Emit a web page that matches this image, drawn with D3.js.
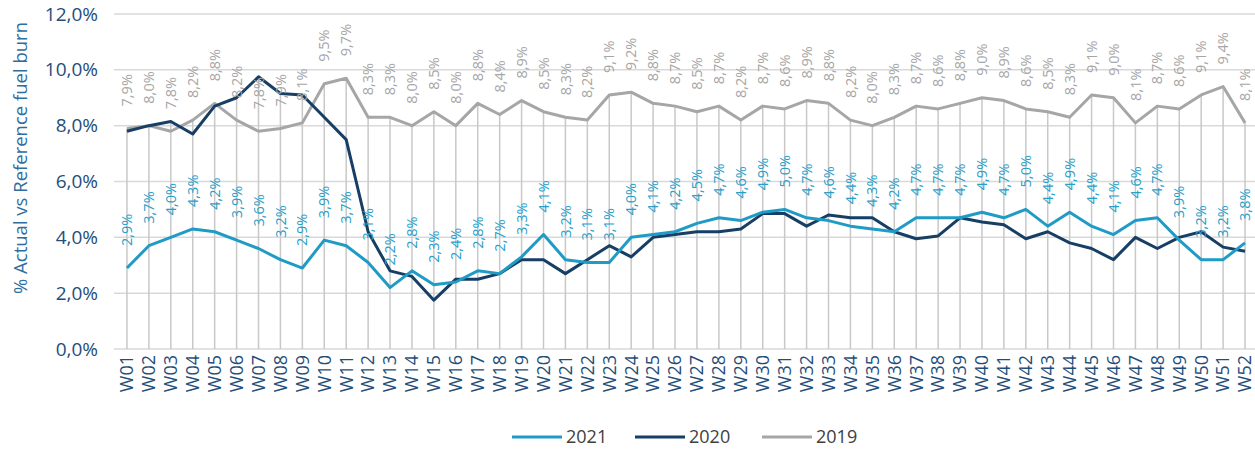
<!DOCTYPE html>
<html>
<head>
<meta charset="utf-8">
<script src="https://cdn.jsdelivr.net/npm/d3@7"></script>
<style>
  body { margin: 0; background: #fff; }
  svg text { font-family: "Open Sans", "Noto Sans", sans-serif; }
</style>
</head>
<body>
<div id="chart"></div>
<script>
// weeks
const weeks = d3.range(1, 53).map(d => "W" + String(d).padStart(2, "0"));

// % actual vs reference fuel burn
const values2021 = [2.9, 3.7, 4.0, 4.3, 4.2, 3.9, 3.6, 3.2, 2.9, 3.9, 3.7, 3.1, 2.2, 2.8, 2.3, 2.4, 2.8, 2.7, 3.3, 4.1,
  3.2, 3.1, 3.1, 4.0, 4.1, 4.2, 4.5, 4.7, 4.6, 4.9, 5.0, 4.7, 4.6, 4.4, 4.3, 4.2, 4.7, 4.7, 4.7, 4.9,
  4.7, 5.0, 4.4, 4.9, 4.4, 4.1, 4.6, 4.7, 3.9, 3.2, 3.2, 3.8];
const values2020 = [7.8, 8.0, 8.15, 7.7, 8.7, 9.0, 9.75, 9.15, 9.1, 8.3, 7.5, 4.2, 2.8, 2.6, 1.75, 2.5, 2.5, 2.7, 3.2, 3.2,
  2.7, 3.2, 3.7, 3.3, 4.0, 4.1, 4.2, 4.2, 4.3, 4.85, 4.85, 4.4, 4.8, 4.7, 4.7, 4.2, 3.95, 4.05, 4.7, 4.55,
  4.45, 3.95, 4.2, 3.8, 3.6, 3.2, 4.0, 3.6, 4.0, 4.2, 3.65, 3.5];
const values2019 = [7.9, 8.0, 7.8, 8.2, 8.8, 8.2, 7.8, 7.9, 8.1, 9.5, 9.7, 8.3, 8.3, 8.0, 8.5, 8.0, 8.8, 8.4, 8.9, 8.5,
  8.3, 8.2, 9.1, 9.2, 8.8, 8.7, 8.5, 8.7, 8.2, 8.7, 8.6, 8.9, 8.8, 8.2, 8.0, 8.3, 8.7, 8.6, 8.8, 9.0,
  8.9, 8.6, 8.5, 8.3, 9.1, 9.0, 8.1, 8.7, 8.6, 9.1, 9.4, 8.1];

const yTicks = [0, 2, 4, 6, 8, 10, 12];

const series = [
  {name: "2021", values: values2021, color: "#1f9bc6", labelColor: "#2aa0c9", labels: true},
  {name: "2020", values: values2020, color: "#173e64", labelColor: null, labels: false},
  {name: "2019", values: values2019, color: "#a6a6a6", labelColor: "#a6a6a6", labels: true}
];

const width = 1255, height = 450;
const plotLeft = 116, plotRight = 1256, plotTop = 14, plotBottom = 349;

const locale = d3.formatLocale({decimal: ",", thousands: ".", grouping: [3], currency: ["", "€"]});
const fmt = locale.format(".1f");

const svg = d3.select("#chart").append("svg")
  .attr("width", width)
  .attr("height", height);

const x = d3.scaleBand()
  .domain(weeks)
  .range([plotLeft, plotRight]);

const y = d3.scaleLinear()
  .domain([0, 12])
  .range([plotBottom, plotTop]);

const cx = w => x(w) + x.bandwidth() / 2;

// horizontal gridlines
svg.append("g").selectAll("line")
  .data(yTicks)
  .join("line")
  .attr("x1", 114)
  .attr("x2", width)
  .attr("y1", d => y(d))
  .attr("y2", d => y(d))
  .attr("stroke", "#d9d9d9")
  .attr("stroke-width", 1.5);

// y tick labels
svg.append("g").selectAll("text")
  .data(yTicks)
  .join("text")
  .attr("x", 98)
  .attr("y", d => y(d))
  .attr("dy", "0.35em")
  .attr("text-anchor", "end")
  .attr("fill", "#1f4e79")
  .style("font-size", "19px")
  .text(d => fmt(d) + "%");

// y title
svg.append("text")
  .attr("transform", "translate(27,158) rotate(-90)")
  .attr("text-anchor", "middle")
  .attr("fill", "#2f6e9e")
  .style("font-size", "18.5px")
  .text("% Actual vs Reference fuel burn");

// drop lines from the highest point to the axis
svg.append("g").selectAll("line")
  .data(weeks)
  .join("line")
  .attr("x1", d => cx(d))
  .attr("x2", d => cx(d))
  .attr("y1", (d, i) => y(d3.max(series, s => s.values[i])))
  .attr("y2", plotBottom)
  .attr("stroke", "#c8c8c8")
  .attr("stroke-width", 1.5);

// x labels
svg.append("g").selectAll("text")
  .data(weeks)
  .join("text")
  .attr("transform", d => "translate(" + cx(d) + "," + (plotBottom + 6) + ") rotate(-90)")
  .attr("dy", "0.35em")
  .attr("text-anchor", "end")
  .attr("fill", "#1f4e79")
  .style("font-size", "18px")
  .text(d => d);

// series lines, 2019 at the back
const line = d3.line()
  .x((d, i) => cx(weeks[i]))
  .y(d => y(d));

series.slice().reverse().forEach(function(s) {
  svg.append("path")
    .datum(s.values)
    .attr("d", line)
    .attr("fill", "none")
    .attr("stroke", s.color)
    .attr("stroke-width", 3)
    .attr("stroke-linejoin", "round");
});

// data labels
series.filter(s => s.labels).forEach(function(s) {
  svg.append("g").selectAll("text")
    .data(s.values)
    .join("text")
    .attr("transform", (d, i) => "translate(" + cx(weeks[i]) + "," + (y(d) - 22) + ") rotate(-90)")
    .attr("dy", "0.35em")
    .attr("text-anchor", "start")
    .attr("fill", s.labelColor)
    .style("font-size", "14.5px")
    .text(d => fmt(d) + "%");
});

// legend
const legendX = [512, 635, 762];
const legend = svg.append("g").selectAll("g")
  .data(series)
  .join("g")
  .attr("transform", (d, i) => "translate(" + legendX[i] + ",437)");

legend.append("line")
  .attr("x1", 0)
  .attr("x2", 50)
  .attr("stroke", d => d.color)
  .attr("stroke-width", 3);

legend.append("text")
  .attr("x", 54)
  .attr("dy", "0.35em")
  .attr("fill", "#404040")
  .style("font-size", "18px")
  .text(d => d.name);
</script>
</body>
</html>
